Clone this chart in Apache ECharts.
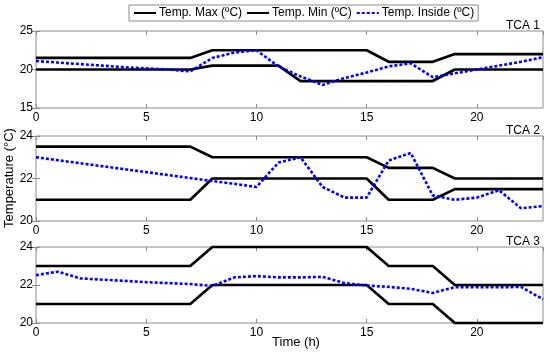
<!DOCTYPE html>
<html>
<head>
<meta charset="utf-8">
<script src="https://cdn.jsdelivr.net/npm/echarts@6/dist/echarts.min.js"></script>
<style>
html,body{margin:0;padding:0;background:#fff;}
#chart{width:550px;height:352px;}
</style>
</head>
<body>
<div id="chart"></div>
<script>
// ---- data ----
var hours = [0,1,2,3,4,5,6,7,8,9,10,11,12,13,14,15,16,17,18,19,20,21,22,23];
var seriesNames = ['Temp. Max (ºC)', 'Temp. Min (ºC)', 'Temp. Inside (ºC)'];
var panelTitles = ['TCA 1', 'TCA 2', 'TCA 3'];
var xTicks = [0, 5, 10, 15, 20];
var yRanges = [[15, 25, 5], [20, 24, 2], [20, 24, 2]];

var tca1Max = [21.5,21.5,21.5,21.5,21.5,21.5,21.5,21.5,22.5,22.5,22.5,22.5,22.5,22.5,22.5,22.5,21,21,21,22,22,22,22,22];
var tca1Min = [20,20,20,20,20,20,20,20,20.5,20.5,20.5,20.5,18.5,18.5,18.5,18.5,18.5,18.5,18.5,20,20,20,20,20];
var tca1In  = [21.1,20.9,20.7,20.5,20.3,20.15,20.0,19.75,21.5,22.2,22.5,20.4,19.1,18.0,18.9,19.6,20.4,20.8,19.0,19.5,20.0,20.5,21.0,21.6];

var tca2Max = [23.5,23.5,23.5,23.5,23.5,23.5,23.5,23.5,23,23,23,23,23,23,23,23,22.5,22.5,22.5,22,22,22,22,22];
var tca2Min = [21,21,21,21,21,21,21,21,22,22,22,22,22,22,22,22,21,21,21,21.5,21.5,21.5,21.5,21.5];
var tca2In  = [23.0,22.86,22.72,22.58,22.44,22.3,22.16,22.02,21.88,21.75,21.6,22.75,23.0,21.6,21.1,21.1,22.85,23.2,21.2,21.0,21.1,21.45,20.6,20.7];

var tca3Max = [23,23,23,23,23,23,23,23,24,24,24,24,24,24,24,24,23,23,23,22,22,22,22,22];
var tca3Min = [21,21,21,21,21,21,21,21,22,22,22,22,22,22,22,22,21,21,21,20,20,20,20,20];
var tca3In  = [22.52,22.7,22.35,22.28,22.22,22.15,22.1,22.05,21.95,22.4,22.47,22.4,22.4,22.43,22.1,21.97,21.9,21.8,21.58,21.88,21.88,21.88,21.9,21.25];

var panels = [[tca1Max, tca1Min, tca1In], [tca2Max, tca2Min, tca2In], [tca3Max, tca3Min, tca3In]];

// ---- layout ----
var gridBoxes = [{top:31, height:77}, {top:136, height:85}, {top:247, height:76}];
var plotLeft = 36, plotRight = 7;
var FONT = 'Liberation Sans, Arial, sans-serif';
var AX = '#8c8c8c';

function zip(xs, ys){ return xs.map(function(x,i){ return [x, ys[i]]; }); }

var grids = [], xAxes = [], yAxes = [], series = [], graphics = [];
gridBoxes.forEach(function(g, i){
  grids.push({left: plotLeft, right: plotRight, top: g.top, height: g.height,
    show: true, borderColor: AX, borderWidth: 1, backgroundColor: '#fff'});
  var xBase = {type:'value', gridIndex:i, min:0, max:23, interval:5,
    splitLine:{show:false}, axisLine:{show:false},
    axisTick:{show:true, inside:true, length:4, lineStyle:{color:AX}}};
  xAxes.push(Object.assign({}, xBase, {position:'bottom',
    axisLabel:{show:true, color:'#000', fontSize:12, fontFamily:FONT, margin:4,
      showMaxLabel:false,
      formatter:function(v){ return xTicks.indexOf(v) >= 0 ? String(v) : ''; }}}));
  xAxes.push(Object.assign({}, xBase, {position:'top', axisLabel:{show:false}}));
  var r = yRanges[i];
  var yBase = {type:'value', gridIndex:i, min:r[0], max:r[1], interval:r[2],
    splitLine:{show:false}, axisLine:{show:false},
    axisTick:{show:true, inside:true, length:4, lineStyle:{color:AX}}};
  yAxes.push(Object.assign({}, yBase, {position:'left',
    axisLabel:{show:true, color:'#000', fontSize:12, fontFamily:FONT, margin:3}}));
  yAxes.push(Object.assign({}, yBase, {position:'right', axisLabel:{show:false}}));

  var d = panels[i];
  for (var s = 0; s < 3; s++) {
    var dotted = s === 2;
    series.push({
      name: seriesNames[s], type:'line', xAxisIndex: i*2, yAxisIndex: i*2,
      data: zip(hours, d[s]), showSymbol:false, symbol:'none', clip:false,
      animation:false, z: dotted ? 3 : 2,
      lineStyle: dotted ? {color:'#0000ff', width:2.6, type:[3,2], cap:'butt'}
                        : {color:'#000', width:2.7},
      itemStyle:{color: dotted ? '#0000ff' : '#000'}
    });
  }
  graphics.push({type:'text', x: 540, y: g.top - 5,
    style:{text: panelTitles[i], textAlign:'right', textVerticalAlign:'middle',
      fill:'#000', fontSize:12, fontFamily:FONT}});
});

graphics.push({type:'text', rotation: Math.PI/2, x: 9, y: 178,
  style:{text:'Temperature (°C)', textAlign:'center', textVerticalAlign:'middle',
    fill:'#000', fontSize:13, fontFamily:FONT}});
graphics.push({type:'text', x: 296, y: 342,
  style:{text:'Time (h)', textAlign:'center', textVerticalAlign:'middle',
    fill:'#000', fontSize:13, fontFamily:FONT}});

var chart = echarts.init(document.getElementById('chart'), null, {renderer:'canvas'});
chart.setOption({
  animation:false,
  backgroundColor:'#fff',
  legend:{data: seriesNames, left:129, top:5, orient:'horizontal',
    backgroundColor:'#fff', borderColor:AX, borderWidth:1, padding:[2,4,2,4],
    itemWidth:22, itemHeight:10, itemGap:4,
    itemStyle:{opacity:0},
    textStyle:{fontSize:12, fontFamily:FONT, color:'#000', padding:[0,0,0,-2]}},
  grid: grids, xAxis: xAxes, yAxis: yAxes, series: series, graphic: graphics
});
</script>
</body>
</html>
